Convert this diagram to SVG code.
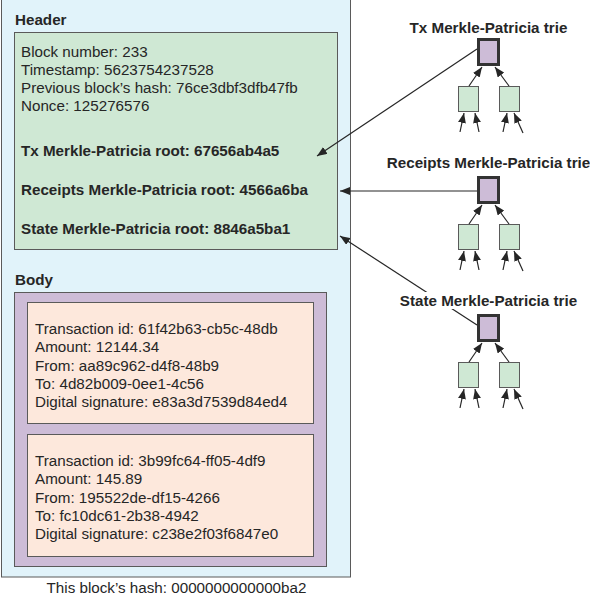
<svg xmlns="http://www.w3.org/2000/svg" width="590" height="596" viewBox="0 0 590 596">
<style>
text{font-family:"Liberation Sans",Arial,sans-serif;font-size:15.2px;fill:#262626}
.b{font-weight:bold}
.m{text-anchor:middle}
.box{stroke:#5a5a5a;stroke-width:1}
.root{fill:#cdbcd7;stroke:#333;stroke-width:3}
.leaf{fill:#cfe8d4;stroke:#5a5a5a;stroke-width:1}
.c{stroke:#262626;stroke-width:1.2;fill:none;marker-end:url(#ah)}
</style>
<defs>
<marker id="ah" markerUnits="userSpaceOnUse" markerWidth="10" markerHeight="8" viewBox="0 0 10 8" refX="10" refY="4" orient="auto">
<path d="M0,0 L10,4 L0,8 Z" fill="#262626"/>
</marker>
</defs>
<rect width="590" height="596" fill="#fff"/>
<g id="block">
<rect class="box" x="1.5" y="-1" width="349" height="578" fill="#e1f3fa"/>
<text class="b" x="15" y="25">Header</text>
<text class="b" x="15" y="285">Body</text>
</g>
<g id="header">
<rect class="box" x="14.5" y="32.5" width="323" height="217" fill="#cfe8d4"/>
<text x="21" y="57">Block number: 233</text>
<text x="21" y="75">Timestamp: 5623754237528</text>
<text x="21" y="93">Previous block’s hash: 76ce3dbf3dfb47fb</text>
<text x="21" y="111">Nonce: 125276576</text>
<text class="b" x="21" y="156">Tx Merkle-Patricia root: 67656ab4a5</text>
<text class="b" x="21" y="195">Receipts Merkle-Patricia root: 4566a6ba</text>
<text class="b" x="21" y="234">State Merkle-Patricia root: 8846a5ba1</text>
</g>
<g id="body">
<rect class="box" x="14.5" y="292.5" width="312" height="274" fill="#cdbcd7"/>
</g>
<g id="tx1">
<rect class="box" x="27.5" y="302.5" width="286" height="121" fill="#fde8dc"/>
<text x="35" y="334">Transaction id: 61f42b63-cb5c-48db</text>
<text x="35" y="352">Amount: 12144.34</text>
<text x="35" y="371">From: aa89c962-d4f8-48b9</text>
<text x="35" y="389">To: 4d82b009-0ee1-4c56</text>
<text x="35" y="407">Digital signature: e83a3d7539d84ed4</text>
</g>
<g id="tx2">
<rect class="box" x="27.5" y="434.5" width="286" height="122" fill="#fde8dc"/>
<text x="35" y="466">Transaction id: 3b99fc64-ff05-4df9</text>
<text x="35" y="484">Amount: 145.89</text>
<text x="35" y="503">From: 195522de-df15-4266</text>
<text x="35" y="521">To: fc10dc61-2b38-4942</text>
<text x="35" y="539">Digital signature: c238e2f03f6847e0</text>
</g>
<g id="footer">
<text class="m" x="176.5" y="593">This block’s hash: 0000000000000ba2</text>
</g>
<g id="connectors">
<line class="c" x1="477" y1="49" x2="317" y2="156"/>
<line class="c" x1="477" y1="191" x2="340" y2="191"/>
<line class="c" x1="477" y1="325" x2="340" y2="236"/>
<g id="tree-arrows">
<line class="c" x1="469" y1="86" x2="482" y2="67"/>
<line class="c" x1="509" y1="86" x2="495" y2="67"/>
<line class="c" x1="460" y1="132" x2="464" y2="113"/>
<line class="c" x1="479" y1="132" x2="475" y2="113"/>
<line class="c" x1="503" y1="132" x2="507" y2="113"/>
<line class="c" x1="523" y1="133" x2="514" y2="113"/>
<line class="c" x1="469" y1="224" x2="482" y2="205"/>
<line class="c" x1="509" y1="224" x2="495" y2="205"/>
<line class="c" x1="460" y1="270" x2="464" y2="251"/>
<line class="c" x1="479" y1="270" x2="475" y2="251"/>
<line class="c" x1="503" y1="270" x2="507" y2="251"/>
<line class="c" x1="523" y1="271" x2="514" y2="251"/>
<line class="c" x1="469" y1="362" x2="482" y2="343"/>
<line class="c" x1="509" y1="362" x2="495" y2="343"/>
<line class="c" x1="460" y1="408" x2="464" y2="389"/>
<line class="c" x1="479" y1="408" x2="475" y2="389"/>
<line class="c" x1="503" y1="408" x2="507" y2="389"/>
<line class="c" x1="523" y1="409" x2="514" y2="389"/>
</g>
</g>
<g id="tx-trie">
<text class="b m" x="488.5" y="33">Tx Merkle-Patricia trie</text>
<rect class="root" x="478.5" y="39.5" width="20" height="25"/>
<rect class="leaf" x="458.5" y="86.5" width="20" height="25"/>
<rect class="leaf" x="499.5" y="86.5" width="20" height="25"/>
</g>
<g id="receipts-trie">
<text class="b m" x="488.5" y="168">Receipts Merkle-Patricia trie</text>
<rect class="root" x="478.5" y="177.5" width="20" height="25"/>
<rect class="leaf" x="458.5" y="224.5" width="20" height="25"/>
<rect class="leaf" x="499.5" y="224.5" width="20" height="25"/>
</g>
<g id="state-trie">
<rect x="369" y="292" width="180" height="17" fill="#fff"/>
<text class="b m" x="488.5" y="306">State Merkle-Patricia trie</text>
<rect class="root" x="478.5" y="315.5" width="20" height="25"/>
<rect class="leaf" x="458.5" y="362.5" width="20" height="25"/>
<rect class="leaf" x="499.5" y="362.5" width="20" height="25"/>
</g>
</svg>
